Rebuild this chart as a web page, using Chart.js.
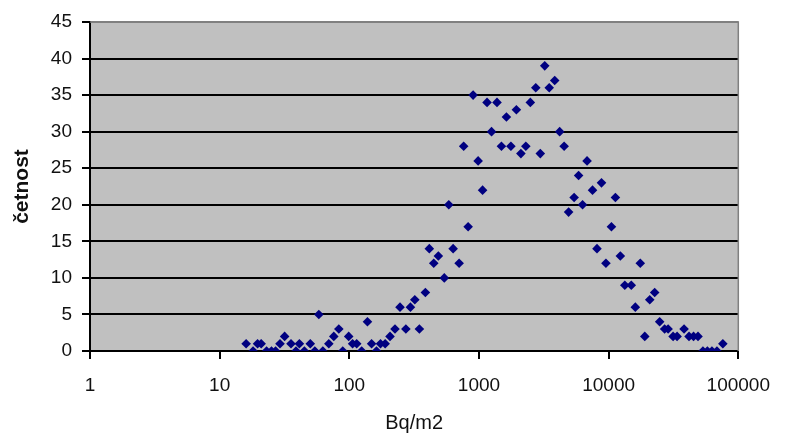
<!DOCTYPE html>
<html>
<head>
<meta charset="utf-8">
<script src="https://cdn.jsdelivr.net/npm/chart.js@4.4.0/dist/chart.umd.min.js"></script>
<style>
  html, body { margin: 0; padding: 0; background: #fff; }
</style>
</head>
<body>
<canvas id="graf" width="785" height="440"></canvas>
<script>
// hodnoty (Bq/m2 a četnost)
const bqm2 = [
  16.0, 18.1, 19.6, 20.9, 23.0, 25.1, 27.0, 29.2, 31.7, 35.5,
  38.8, 41.2, 45.0, 50.0, 54.2, 58.2, 62.5, 69.5, 75.9, 83.0,
  89.0, 98.9, 106, 114, 124.5, 138, 148.5, 162, 174, 189,
  206, 225, 246, 273, 296, 320, 347, 386, 414, 448,
  486, 540, 585, 632, 703, 762, 825, 901, 985, 1066,
  1154, 1250, 1377, 1490, 1628, 1763, 1943, 2105, 2298, 2489,
  2742, 2971, 3215, 3482, 3838, 4191, 4537, 4913, 5417, 5867,
  6293, 6816, 7512, 8130, 8810, 9530, 10510, 11280, 12310, 13330,
  14950, 16060, 17540, 19000, 20750, 22650, 24750, 27030, 28750, 31420,
  33720, 38170, 41690, 45170, 48890, 53370, 57770, 62630, 68420, 76010
];
const cetnost = [
  1, 0, 1, 1, 0, 0, 0, 1, 2, 1,
  0, 1, 0, 1, 0, 5, 0, 1, 2, 3,
  0, 2, 1, 1, 0, 4, 1, 0, 1, 1,
  2, 3, 6, 3, 6, 7, 3, 8, 14, 12,
  13, 10, 20, 14, 12, 28, 17, 35, 26, 22,
  34, 30, 34, 28, 32, 28, 33, 27, 28, 34,
  36, 27, 39, 36, 37, 30, 28, 19, 21, 24,
  20, 26, 22, 14, 23, 12, 17, 21, 13, 9,
  9, 6, 12, 2, 7, 8, 4, 3, 3, 2,
  2, 3, 2, 2, 2, 0, 0, 0, 0, 1
];
const xTicks = [1, 10, 100, 1000, 10000, 100000];
const yTicks = [0, 5, 10, 15, 20, 25, 30, 35, 40, 45];

const body = [];
for (let i = 0; i < bqm2.length; i++) {
  body.push({ x: bqm2[i], y: cetnost[i] });
}

// šedé pozadí plochy grafu a rámeček vpravo
const pozadi = {
  id: 'pozadi',
  beforeDraw(chart) {
    const a = chart.chartArea;
    const c = chart.ctx;
    c.save();
    c.fillStyle = '#c0c0c0';
    c.fillRect(a.left, a.top, a.right - a.left, a.bottom - a.top);
    c.restore();
  },
  afterDraw(chart) {
    const a = chart.chartArea;
    const c = chart.ctx;
    c.save();
    c.strokeStyle = '#808080';
    c.lineWidth = 1.5;
    c.beginPath();
    c.moveTo(a.left, a.top);
    c.lineTo(a.right, a.top);
    c.lineTo(a.right, a.bottom);
    c.stroke();
    c.restore();
  }
};

const pismo = "'Liberation Sans', Arial, sans-serif";

new Chart(document.getElementById('graf'), {
  type: 'scatter',
  data: {
    datasets: [{
      data: body,
      pointStyle: 'rectRot',
      pointRadius: 4.8,
      pointHoverRadius: 4.8,
      backgroundColor: '#000080',
      borderColor: '#000080',
      borderWidth: 0
    }]
  },
  options: {
    responsive: false,
    animation: false,
    devicePixelRatio: 1,
    layout: { padding: { top: 22, right: 43, left: 0, bottom: 0 } },
    plugins: {
      legend: { display: false },
      tooltip: { enabled: false }
    },
    scales: {
      x: {
        type: 'logarithmic',
        min: 1,
        max: 100000,
        afterBuildTicks: s => { s.ticks = xTicks.map(v => ({ value: v })); },
        afterFit: s => { s.height = 89; },
        ticks: {
          callback: v => String(v),
          autoSkip: false,
          maxRotation: 0,
          padding: 15,
          color: '#111',
          font: { family: pismo, size: 19 }
        },
        grid: {
          drawOnChartArea: false,
          drawTicks: true,
          tickLength: 8,
          color: '#000',
          lineWidth: 2
        },
        border: { color: '#000', width: 2 },
        title: {
          display: true,
          text: 'Bq/m2',
          color: '#111',
          font: { family: pismo, size: 20 },
          padding: { top: 0, bottom: 5 }
        }
      },
      y: {
        min: 0,
        max: 45,
        afterBuildTicks: s => { s.ticks = yTicks.map(v => ({ value: v })); },
        afterFit: s => { s.width = 90; },
        ticks: {
          padding: 10,
          color: '#111',
          font: { family: pismo, size: 19 }
        },
        grid: {
          color: c => (c.tick && c.tick.value === 45) ? '#808080' : '#000',
          tickColor: '#000',
          lineWidth: 2,
          tickLength: 8
        },
        border: { color: '#000', width: 2 },
        title: {
          display: true,
          text: 'četnost',
          color: '#111',
          font: { family: pismo, size: 21, weight: 'bold' },
          padding: { top: 10, bottom: 0 }
        }
      }
    }
  },
  plugins: [pozadi]
});
</script>
</body>
</html>
